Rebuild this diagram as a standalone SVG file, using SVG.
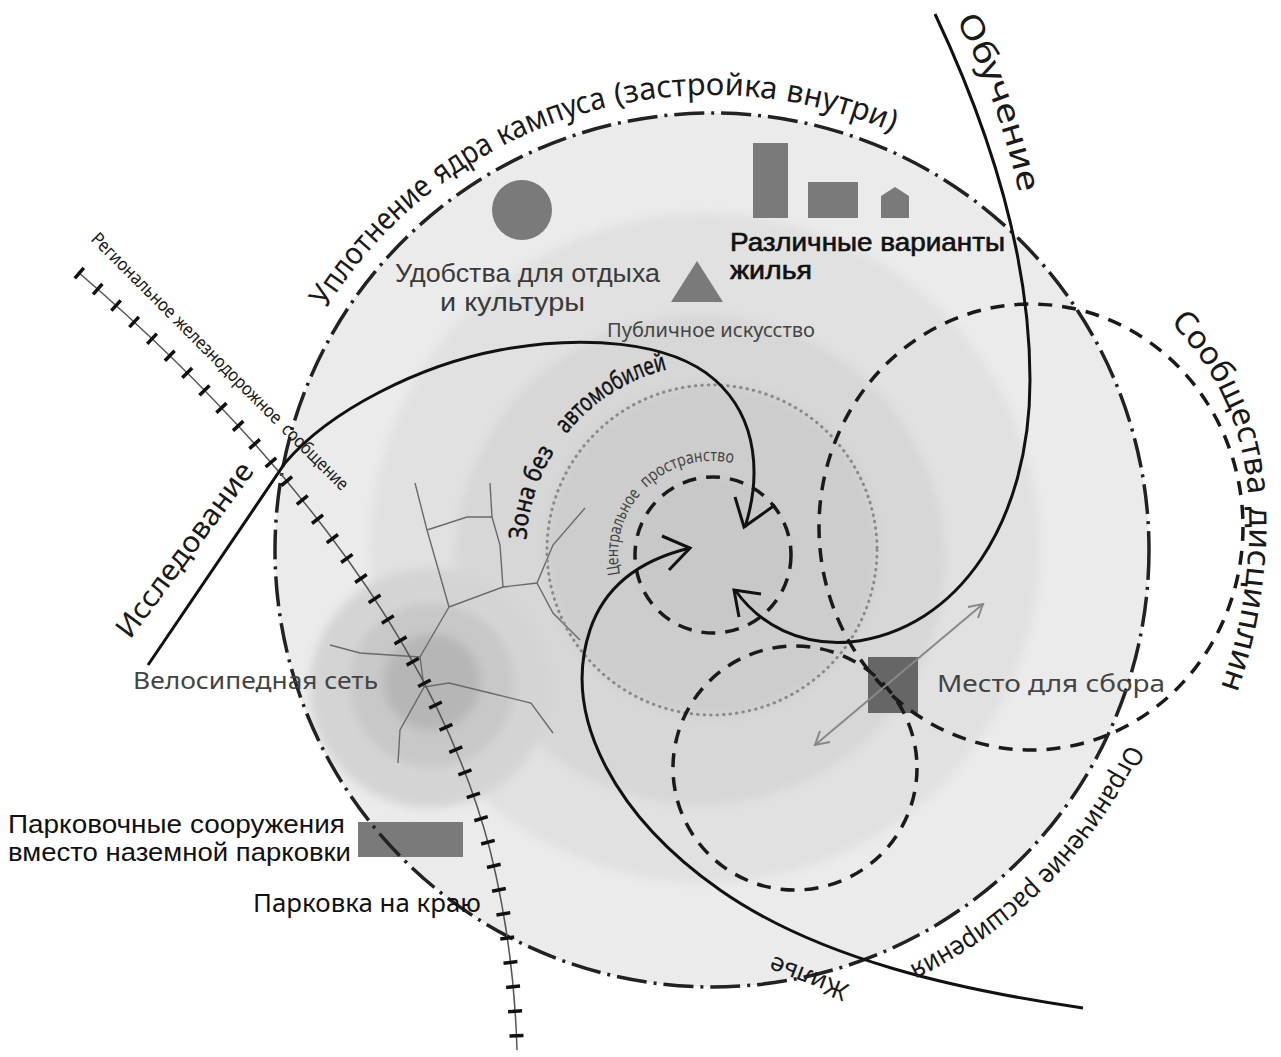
<svg xmlns="http://www.w3.org/2000/svg" width="1281" height="1057" viewBox="0 0 1281 1057">
<defs>
<filter id="soft" x="-20%" y="-20%" width="140%" height="140%"><feGaussianBlur stdDeviation="5"/></filter>
<path id="pT1" d="M326.2,308.9 A455,455 0 0 1 374.8,244.5"/>
<path id="pT2" d="M374.8,244.5 A455,455 0 0 1 434.3,189.6"/>
<path id="pT3" d="M440.7,184.7 A455,455 0 0 1 495.2,150.0"/>
<path id="pT4" d="M502.4,146.1 A455,455 0 0 1 608.3,107.0"/>
<path id="pT5" d="M616.2,105.2 A455,455 0 0 1 777.1,99.7"/>
<path id="pT6" d="M785.1,100.9 A455,455 0 0 1 893.5,132.8"/>
<path id="pOgr" d="M1128,744 A460,460 0 0 1 908,966"/>
<path id="pSoob" d="M1170,322 C1230,385 1252,450 1249,540 C1246,600 1236,650 1214,705"/>
<path id="pObuch" d="M956,20 Q1000,100 1022,207"/>
<path id="pZ1" d="M526.3,539.9 A186,186 0 0 1 554.8,450.6"/>
<path id="pZ2" d="M566.4,434.2 A186,186 0 0 1 667.3,369.4"/>
<path id="pC1" d="M620.1,574.5 A94,94 0 0 1 640.7,493.7"/>
<path id="pC2" d="M646.1,488.0 A94,94 0 0 1 733.1,463.4"/>
</defs>
<style>
text{font-family:"Noto Sans","Open Sans","DejaVu Sans",sans-serif;}
.tight{font-family:"Liberation Sans","Arimo",sans-serif;}
.dash{fill:none;stroke:#1a1a1a;stroke-width:3.5;stroke-dasharray:14 10}
.outer{fill:none;stroke:#222;stroke-width:3.5;stroke-dasharray:30 7 3 7}
.arm{fill:none;stroke:#111;stroke-width:3}
.head{fill:none;stroke:#111;stroke-width:3}
.shape{fill:#7a7a7a}
.bike{fill:none;stroke:#6a6a6a;stroke-width:1.4}
.lbl{fill:#3a3a3a}
.dark{fill:#111}
.big{font-size:31px;fill:#1a1a1a}
.zona{font-size:25px;fill:#111;stroke:#111;stroke-width:0.4}
.centr{font-size:17px;fill:#444}
.rail{font-size:18px;fill:#1a1a1a}
</style>
<rect width="1281" height="1057" fill="#ffffff"/>

<g id="zones">
<circle cx="712" cy="550" r="437" fill="#ebebeb"/>
<g filter="url(#soft)">
<circle cx="705" cy="548" r="335" fill="#e1e1e1"/>
<circle cx="700" cy="560" r="245" fill="#d7d7d7"/>
<circle cx="430" cy="688" r="120" fill="#d4d4d4"/>
<circle cx="432" cy="685" r="82" fill="#c8c8c8"/>
<circle cx="712" cy="550" r="166" fill="#cdcdcd"/>
<circle cx="713" cy="555" r="78" fill="#c8c8c8"/>
<circle cx="432" cy="682" r="48" fill="#b6b6b6"/>
</g>
</g>

<g id="bike-network" class="bike">
<path d="M415,483 L427,530 L449,607 L424,650 L420,657 L424,687 L400,730 L398,763"/>
<path d="M427,530 L467,517 L492,517 L500,545 L503,587 L449,607"/>
<path d="M490,483 L492,517"/>
<path d="M503,587 L537,583 L553,545 L585,508"/>
<path d="M537,583 L553,613 L580,640"/>
<path d="M330,645 L360,653 L420,657"/>
<path d="M424,687 L449,683 L490,693 L531,703 L553,733"/>
</g>

<g id="central-zone">
<circle cx="712" cy="550" r="165" fill="none" stroke="#8a8a8a" stroke-width="3" stroke-dasharray="0.5 6" stroke-linecap="round"/>
</g>

<g id="amenities"><circle cx="522" cy="210" r="30" class="shape"/></g>
<g id="housing-icons">
<rect x="753" y="143" width="35" height="75" class="shape"/>
<rect x="808" y="182" width="50" height="36" class="shape"/>
<path d="M881,218 V196 L895,187 L909,196 V218 Z" class="shape"/>
</g>
<g id="public-art"><polygon points="697,261 671,302 723,302" class="shape"/></g>
<g id="parking"><rect x="358" y="822" width="105" height="35" class="shape"/></g>
<g id="gathering"><rect x="868" y="657" width="50" height="56" fill="#666"/></g>

<g id="circles">
<circle cx="713" cy="555" r="78" class="dash"/>
<ellipse cx="1031" cy="527" rx="212" ry="223" class="dash"/>
<circle cx="795" cy="768" r="122" class="dash"/>
<circle cx="712" cy="550" r="437" class="outer"/>
</g>

<g id="railway">
<path d="M78,272 C250,420 430,620 490,850 C505,910 515,980 517,1050" fill="none" stroke="#555" stroke-width="1.5"/>
<path d="M78,272 C250,420 430,620 490,850 C505,910 515,980 517,1050" fill="none" stroke="#111" stroke-width="14" stroke-dasharray="3.5 21"/>
</g>

<g id="connectors">
<path class="arm" d="M148,665 L285,463 C330,410 420,365 500,350 C580,335 670,340 715,380 C760,420 760,480 745,527"/>
<polyline class="head" points="735,497 744,527 775,505"/>
<path class="arm" d="M935,14 C985,120 1030,250 1030,380 C1030,520 960,630 850,642 C800,646 760,625 735,590"/>
<polyline class="head" points="761,594 734,590 739,617"/>
<path class="arm" d="M1083,1008 C960,990 820,960 720,890 C620,820 560,720 590,630 C605,585 640,560 690,548"/>
<polyline class="head" points="662,536 690,548 669,570"/>
<g stroke="#888" stroke-width="2" fill="none">
<line x1="815" y1="745" x2="983" y2="604"/>
<polyline points="968,607 983,604 978,618"/>
<polyline points="830,742 815,745 820,731"/>
</g>
</g>

<g id="labels">
<text class="big"><textPath href="#pT1" textLength="80" lengthAdjust="spacingAndGlyphs">Уплот</textPath></text>
<text class="big"><textPath href="#pT2" textLength="80" lengthAdjust="spacingAndGlyphs">нение</textPath></text>
<text class="big"><textPath href="#pT3" textLength="64" lengthAdjust="spacingAndGlyphs">ядра</textPath></text>
<text class="big"><textPath href="#pT4" textLength="112" lengthAdjust="spacingAndGlyphs">кампуса</textPath></text>
<text class="big"><textPath href="#pT5" textLength="161" lengthAdjust="spacingAndGlyphs">(застройка</textPath></text>
<text class="big"><textPath href="#pT6" textLength="112" lengthAdjust="spacingAndGlyphs">внутри)</textPath></text>
<text font-size="32" fill="#1a1a1a"><textPath href="#pObuch" textLength="185" lengthAdjust="spacingAndGlyphs">Обучение</textPath></text>
<text font-size="32" fill="#1a1a1a"><textPath href="#pSoob" textLength="194" lengthAdjust="spacingAndGlyphs">Сообщества</textPath></text>
<text font-size="32" fill="#1a1a1a"><textPath href="#pSoob" startOffset="206" textLength="184" lengthAdjust="spacingAndGlyphs">дисциплин</textPath></text>
<text font-size="27" fill="#1a1a1a"><textPath href="#pOgr" textLength="318" lengthAdjust="spacingAndGlyphs">Ограничение расширения</textPath></text>
<text font-size="25" fill="#1a1a1a" transform="translate(850,985) rotate(201)" textLength="82" lengthAdjust="spacingAndGlyphs">Жилье</text>
<text font-size="29" fill="#1a1a1a" transform="translate(130,640) rotate(-53.5)" textLength="210" lengthAdjust="spacingAndGlyphs">Исследование</text>
<text class="rail" transform="translate(90,240) rotate(45)" textLength="112" lengthAdjust="spacingAndGlyphs">Региональное</text>
<text class="rail" transform="translate(172.6,322.6) rotate(45)" textLength="145" lengthAdjust="spacingAndGlyphs">железнодорожное</text>
<text class="rail" transform="translate(280.6,430.6) rotate(45)" textLength="86" lengthAdjust="spacingAndGlyphs">сообщение</text>
<text class="zona"><textPath href="#pZ1" textLength="94" lengthAdjust="spacingAndGlyphs">Зона без</textPath></text>
<text class="zona"><textPath href="#pZ2" textLength="122" lengthAdjust="spacingAndGlyphs">автомобилей</textPath></text>
<text class="centr"><textPath href="#pC1" textLength="86" lengthAdjust="spacingAndGlyphs">Центральное</textPath></text>
<text class="centr"><textPath href="#pC2" textLength="94" lengthAdjust="spacingAndGlyphs">пространство</textPath></text>
<text font-size="25.5" class="lbl tight"><tspan x="395" y="282" textLength="265" lengthAdjust="spacingAndGlyphs">Удобства для отдыха</tspan><tspan x="440" y="311" textLength="145" lengthAdjust="spacingAndGlyphs">и культуры</tspan></text>
<text font-size="25" class="dark tight" stroke="#111" stroke-width="0.6"><tspan x="730" y="251" textLength="275" lengthAdjust="spacingAndGlyphs">Различные варианты</tspan><tspan x="730" y="279" textLength="82" lengthAdjust="spacingAndGlyphs">жилья</tspan></text>
<text x="607" y="337" font-size="20" fill="#444" textLength="208" lengthAdjust="spacingAndGlyphs">Публичное искусство</text>
<text x="133" y="689" font-size="24" fill="#444" textLength="245" lengthAdjust="spacingAndGlyphs">Велосипедная сеть</text>
<text x="937" y="692" font-size="24" fill="#444" textLength="228" lengthAdjust="spacingAndGlyphs">Место для сбора</text>
<text font-size="25" class="dark tight"><tspan x="8" y="833" textLength="337" lengthAdjust="spacingAndGlyphs">Парковочные сооружения</tspan><tspan x="8" y="861" textLength="343" lengthAdjust="spacingAndGlyphs">вместо наземной парковки</tspan></text>
<text x="253" y="912" font-size="26" class="dark" textLength="228" lengthAdjust="spacingAndGlyphs">Парковка на краю</text>
</g>
</svg>
